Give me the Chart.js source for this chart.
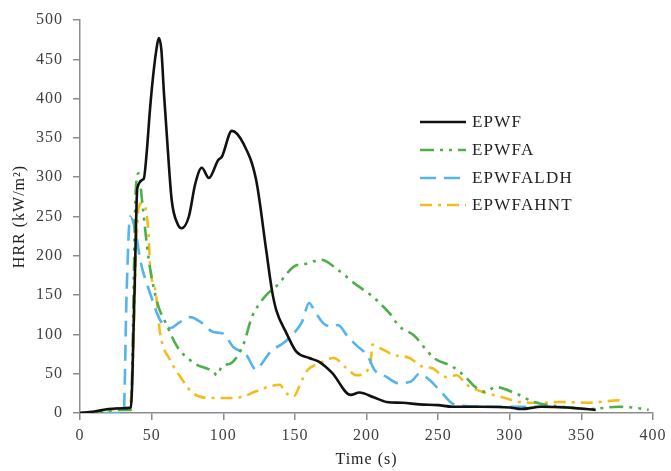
<!DOCTYPE html>
<html>
<head>
<meta charset="utf-8">
<script src="https://cdn.jsdelivr.net/npm/chart.js@4/dist/chart.umd.min.js"></script>
<style>
  html, body { margin: 0; padding: 0; background: #fff; }
  #wrap { width: 671px; height: 471px; }
</style>
</head>
<body>
<div id="wrap"><canvas id="hrr" width="671" height="471"></canvas></div>
<script>
// values (time in s, HRR in kW/m2)
const epwfT = [0, 10, 20, 30, 35.5, 38, 40, 44.5, 46.5, 48.8, 51, 53.3, 55, 56.8, 58.6, 61, 64, 68, 71, 76, 80.5, 85, 90, 96.5, 99, 106, 114, 123, 130, 134, 137, 144, 151, 160, 167, 176, 189, 195, 205, 214, 225, 237, 250, 260, 280, 300, 308, 322, 340, 360];
const epwfV = [0, 2, 5, 6, 7, 150, 286, 298, 330, 385, 428, 462, 477, 462, 407, 343, 271, 241, 235, 250, 292, 312, 299, 322, 326, 359, 343, 296, 207, 156, 131, 102, 78, 70, 65, 51, 23, 26, 20, 14, 13, 11, 10, 8, 8, 7, 5, 8, 7, 4];

const epwfaT = [0, 10, 20, 30, 35.4, 39, 41, 43.5, 48, 54, 60, 68, 77, 82, 88, 93, 95.6, 99, 106, 114, 120, 124.5, 130, 138, 149, 158, 168.5, 180, 193, 203, 216, 223, 233, 241, 247, 260, 269, 276, 283, 290, 304, 317, 336, 355, 376, 390, 397];
const epwfaV = [0, 1, 3, 4, 4, 286, 305, 267, 195, 140, 114, 84, 67, 61, 57, 53, 48, 59, 64, 87, 122, 137, 150, 163, 186, 190, 195, 182, 163, 150, 127, 110, 99, 82, 70, 59, 46, 33, 27, 33, 25, 14, 8, 5, 8, 6, 4];

const aldhT = [0, 10, 20, 30.5, 32.5, 35, 39, 42, 49, 56, 63, 70, 77, 84, 93, 100, 107, 116, 123, 127, 133, 142, 149, 155, 160, 164, 170, 177, 180, 187, 193, 201, 205.5, 214, 222, 231, 237, 244, 250, 254, 260, 269, 290, 310, 330, 345];
const aldhV = [0, 0, 0, 0, 150, 250, 229, 195, 152, 118, 108, 116, 122, 116, 103, 101, 84, 74, 55, 63, 78, 89, 101, 116, 140, 129, 114, 110, 112, 97, 86, 72, 55, 46, 38, 40, 50, 42, 31, 23, 12, 9, 8, 8, 8, 7];

const ahntT = [0, 10, 21, 28, 34, 36.5, 39, 41, 43.5, 47.5, 49, 53, 56, 63, 70, 79, 91, 104, 114, 122, 131, 139.6, 143, 149, 155, 159, 167, 177, 186, 193, 201, 203, 204, 210, 219, 230, 239, 246, 255, 263, 270, 282, 291, 312, 322, 334, 355, 376, 380];
const ahntV = [0, 2, 4, 6, 8, 40, 200, 262, 267, 237, 186, 152, 101, 67, 46, 25, 19, 19, 21, 27, 33, 36, 27, 21, 42, 55, 63, 70, 57, 48, 55, 65, 87, 82, 74, 70, 59, 57, 46, 48, 36, 26, 22, 13, 13, 14, 13, 16, 13];

const seriesNames = ["EPWF", "EPWFA", "EPWFALDH", "EPWFAHNT"];
const xTicks = [0, 50, 100, 150, 200, 250, 300, 350, 400];
const yTicks = [0, 50, 100, 150, 200, 250, 300, 350, 400, 450, 500];

const styles = [
    { color: "#111111", dash: [], width: 2.6 },
    { color: "#4DAF4A", dash: [14, 6, 3, 6, 3, 6], width: 2.6 },
    { color: "#55B3EE", dash: [16, 8], width: 2.6 },
    { color: "#F2BD1E", dash: [12, 6, 3, 6], width: 2.6 }
];

const pts = (t, v) => t.map((x, i) => ({ x: x, y: v[i] }));
const seriesData = [pts(epwfT, epwfV), pts(epwfaT, epwfaV), pts(aldhT, aldhV), pts(ahntT, ahntV)];

const FONT = "'Liberation Serif', 'Times New Roman', serif";

// the original text looks a bit stretched, so widen it a little
const wideText = {
    id: "wideText",
    beforeInit(chart) { chart.ctx.letterSpacing = "1px"; },
    beforeDraw(chart) { chart.ctx.letterSpacing = "1px"; }
};

// legend drawn by hand inside the plot, like the original
const innerLegend = {
    id: "innerLegend",
    afterDraw(chart) {
        const ctx = chart.ctx;
        const x0 = 420, x1 = 466, tx = 472;
        const rows = [122, 150, 178, 205];
        ctx.save();
        chart.data.datasets.forEach((ds, i) => {
            const y = rows[i];
            ctx.beginPath();
            ctx.setLineDash(ds.borderDash || []);
            ctx.lineWidth = ds.borderWidth;
            ctx.strokeStyle = ds.borderColor;
            ctx.moveTo(x0, y);
            ctx.lineTo(x1, y);
            ctx.stroke();
            ctx.setLineDash([]);
            ctx.fillStyle = "#222";
            ctx.font = "17px " + FONT;
            ctx.letterSpacing = "1.2px";
            ctx.textBaseline = "middle";
            ctx.fillText(ds.label, tx, y + 1);
        });
        ctx.restore();
    }
};

const axisStyle = {
    grid: { drawOnChartArea: false, drawTicks: true, tickLength: 7, color: "#8c8c8c", lineWidth: 1.5 },
    border: { color: "#8c8c8c", width: 1.5 }
};

new Chart(document.getElementById("hrr").getContext("2d"), {
    type: "line",
    data: {
        datasets: seriesData.map((d, i) => ({
            label: seriesNames[i],
            data: d,
            borderColor: styles[i].color,
            borderDash: styles[i].dash,
            borderWidth: styles[i].width,
            pointRadius: 0,
            fill: false,
            cubicInterpolationMode: "monotone"
        }))
    },
    options: {
        responsive: false,
        animation: false,
        layout: { padding: { top: 20, right: 16, left: 0, bottom: 0 } },
        plugins: { legend: { display: false }, tooltip: { enabled: false } },
        scales: {
            x: {
                type: "linear",
                min: 0, max: 400,
                afterBuildTicks: s => { s.ticks = xTicks.map(v => ({ value: v })); },
                afterFit: s => { s.height = 58; },
                ticks: { font: { family: FONT, size: 16 }, color: "#404040", padding: 6, maxRotation: 0 },
                title: { display: true, text: "Time (s)", font: { family: FONT, size: 16 }, color: "#222", padding: { top: 2, bottom: 2 } },
                ...axisStyle
            },
            y: {
                min: 0, max: 500,
                afterBuildTicks: s => { s.ticks = yTicks.map(v => ({ value: v })); },
                afterFit: s => { s.width = 80; },
                ticks: { font: { family: FONT, size: 16 }, color: "#404040", padding: 10 },
                title: { display: true, text: "HRR (kW/m\u00B2)", font: { family: FONT, size: 16 }, color: "#222", padding: { top: 10, bottom: 0 } },
                ...axisStyle
            }
        }
    },
    plugins: [wideText, innerLegend]
});
</script>
</body>
</html>
